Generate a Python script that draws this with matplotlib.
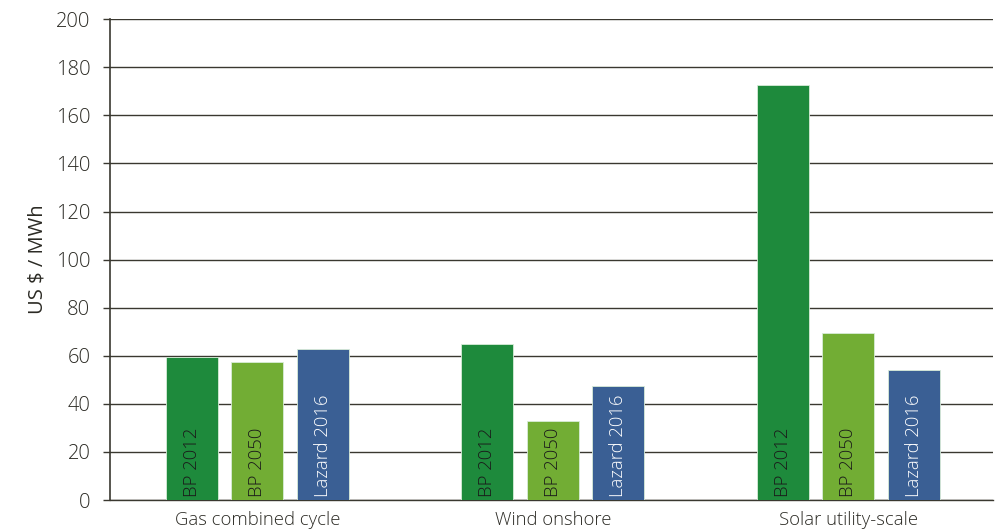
import matplotlib
matplotlib.use('Agg')
import matplotlib.pyplot as plt
import numpy as np

plt.rcParams['font.family'] = ['Open Sans', 'DejaVu Sans']
plt.rcParams['font.weight'] = 'light'

categories = ['Gas combined cycle', 'Wind onshore', 'Solar utility-scale']
series = ['BP 2012', 'BP 2050', 'Lazard 2016']
bp_2012 = [59.5, 64.9, 172.6]
bp_2050 = [57.4, 32.8, 69.4]
lazard_2016 = [62.8, 47.4, 54.0]

colors = ['#1e8a3c', '#72ad34', '#3a5f94']
label_colors = ['#1a1a1a', '#1a1a1a', 'white']
text_color = '#2b2a24'

fig = plt.figure(figsize=(9.98, 5.32), dpi=100)
ax = fig.add_axes([0.110, 0.060, 0.885, 0.904])

x = np.arange(len(categories))
width = 0.176
offsets = [-0.222, 0.0, 0.222]

for vals, off, col, lcol, name in zip([bp_2012, bp_2050, lazard_2016], offsets, colors, label_colors, series):
    bars = ax.bar(x + off, vals, width=width, color=col, edgecolor='#d8ecd8', linewidth=0.6, zorder=3)
    for b in bars:
        ax.text(b.get_x() + b.get_width() / 2, 1.2, name, rotation=90, ha='center', va='bottom',
                fontsize=13.3, color=lcol, zorder=4)

ax.set_ylim(0, 200)
ax.set_yticks(range(0, 201, 20))
ax.set_xlim(-0.5, 2.49)
ax.set_xticks(x)
ax.set_xticklabels(categories)
ax.grid(axis='y', color='#3a3830', linewidth=1.0, zorder=1)
ax.set_axisbelow(True)

for s in ['top', 'right']:
    ax.spines[s].set_visible(False)
ax.spines['left'].set_color('#3a3830')
ax.spines['bottom'].set_color('#3a3830')
ax.spines['left'].set_linewidth(1.2)
ax.spines['bottom'].set_linewidth(1.0)

ax.tick_params(axis='y', length=5, width=1.0, color='#3a3830', labelsize=14.5, labelcolor=text_color, pad=9)
ax.tick_params(axis='x', length=0, labelsize=13.3, labelcolor=text_color, pad=8)
ax.set_ylabel('US $ / MWh', fontsize=14.5, color=text_color, labelpad=6)

plt.savefig('out.png', dpi=100, facecolor='white')
